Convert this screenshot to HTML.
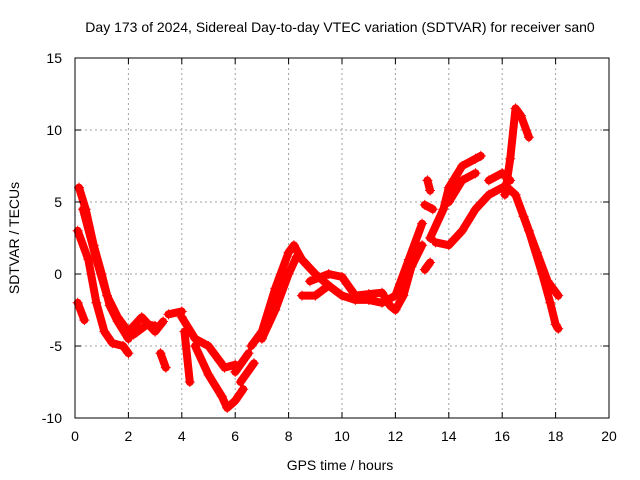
<!DOCTYPE html>
<html><head><meta charset="utf-8"><style>
body{margin:0;background:#fff}
svg{display:block;font-family:"Liberation Sans",sans-serif}
</style></head><body>
<svg id="chart" width="640" height="480" viewBox="0 0 640 480">
<rect width="640" height="480" fill="#fff"/>
<g id="grid"></g>
<g id="series"></g>
<rect x="75" y="58" width="534" height="360" fill="none" stroke="#000" stroke-width="1"/>
<g id="ticks"></g>
<text x="340" y="32" font-size="14" text-anchor="middle">Day 173 of 2024, Sidereal Day-to-day VTEC variation (SDTVAR) for receiver san0</text>
<text x="340" y="470" font-size="14" text-anchor="middle">GPS time / hours</text>
<text transform="translate(19,238) rotate(-90)" font-size="14" text-anchor="middle">SDTVAR / TECUs</text>
</svg>
<script>
const xTicks=[0,2,4,6,8,10,12,14,16,18,20];
const yTicks=[-10,-5,0,5,10,15];
const tracks=[
[[0.15,6],[0.4,4.5],[0.7,2],[1,0],[1.3,-2.2],[1.6,-3.3],[2,-4.5]],
[[0.1,3],[0.5,1],[0.8,-2],[1.1,-4],[1.4,-4.8],[1.8,-5],[2,-5.5]],
[[0.1,-2],[0.35,-3.2]],
[[0.3,4.5],[0.8,1],[1.2,-1.5],[1.6,-3],[2,-4]],
[[2,-4],[2.5,-3],[3,-4],[3.3,-3.3]],
[[2.2,-4.2],[2.7,-3.5],[3,-3.6]],
[[3.2,-5.5],[3.4,-6.5]],
[[3.5,-2.8],[4,-2.6]],
[[4,-3],[4.5,-4.5],[5,-5],[5.4,-6],[5.6,-6.5],[6,-6.3]],
[[4.1,-4],[4.3,-7.5]],
[[4.5,-5],[5,-7],[5.5,-8.5],[5.7,-9.3],[6,-8.8],[6.3,-8]],
[[6,-6.8],[6.5,-5.5]],
[[6.2,-7.5],[6.7,-6.2]],
[[6.6,-5],[7,-4],[7.5,-1],[8,1.5],[8.2,2],[8.5,1],[9,0],[9.5,-0.8],[10,-1.5],[10.5,-1.8],[11,-1.8],[11.5,-2],[12,-1.5],[12.5,1],[13,3.5]],
[[7,-4.5],[7.5,-2.5],[8,0],[8.3,1.2]],
[[8.8,-0.5],[9.5,0],[10,-0.2],[10.5,-1.5],[11,-1.4],[11.5,-1.3],[11.8,-2.2],[12,-2.5],[12.3,-1.5],[12.6,0.5],[13,2]],
[[8.5,-1.5],[9,-1.5],[9.5,-0.8]],
[[13.5,2.2],[14,2],[14.5,3],[15,4.5],[15.5,5.5],[16,6]],
[[13.3,2.5],[13.8,4.5],[14,6],[14.5,7.5],[15,8],[15.2,8.2]],
[[14,5],[14.5,6.5],[15,7]],
[[15.5,6.5],[16,7],[16.3,6.5]],
[[16.1,5.5],[16.3,8],[16.5,11.5],[16.7,11],[17,9.5]],
[[16.2,6],[16.5,5.5],[17,3],[17.5,0],[17.8,-2],[18,-3.5],[18.1,-3.8]],
[[16.8,4],[17.3,1.5],[17.7,-0.5],[18.1,-1.5]],
[[13.2,6.5],[13.3,5.8]],
[[13.1,4.8],[13.4,4.5]],
[[13.1,0.3],[13.3,0.8]]
];
const NS="http://www.w3.org/2000/svg";
function sx(t){return 75+t/20*534;}
function sy(v){return 418-(v+10)/25*360;}
function mk(tag,attrs,parent){const e=document.createElementNS(NS,tag);for(const k in attrs)e.setAttribute(k,attrs[k]);parent.appendChild(e);return e;}
const grid=document.getElementById('grid'),ticks=document.getElementById('ticks'),ser=document.getElementById('series');
xTicks.forEach(t=>{const x=sx(t);
 if(t>0&&t<20){const g=mk('line',{x1:x,x2:x,y1:58,y2:418,stroke:'#a0a0a0','stroke-dasharray':'2,3'},grid);
 
 }
 mk('line',{x1:x,x2:x,y1:418,y2:412,stroke:'#000'},ticks);mk('line',{x1:x,x2:x,y1:58,y2:64,stroke:'#000'},ticks);
 const l=mk('text',{x:x,y:441,'font-size':14,'text-anchor':'middle'},ticks);l.textContent=t;
 
 });
yTicks.forEach(v=>{const y=sy(v);
 if(v>-10&&v<15){const g=mk('line',{x1:75,x2:609,y1:y,y2:y,stroke:'#a0a0a0','stroke-dasharray':'2,3'},grid);
 
 }
 mk('line',{x1:75,x2:81,y1:y,y2:y,stroke:'#000'},ticks);mk('line',{x1:609,x2:603,y1:y,y2:y,stroke:'#000'},ticks);
 const l=mk('text',{x:62,y:y+5,'font-size':14,'text-anchor':'end'},ticks);l.textContent=v;
 
 });
tracks.forEach(tr=>{
 const p=mk('polyline',{points:tr.map(d=>sx(d[0])+','+sy(d[1])).join(' '),fill:'none',stroke:'#f00','stroke-width':8,'stroke-linejoin':'round','stroke-linecap':'round'},ser);
 
 
 tr.forEach(d=>{const x=sx(d[0]),y=sy(d[1]);
  const m=mk('path',{d:`M${x-5},${y}H${x+5}M${x},${y-5}V${y+5}`,stroke:'#f00','stroke-width':1},ser);
  
  });
});
</script>
</body></html>
